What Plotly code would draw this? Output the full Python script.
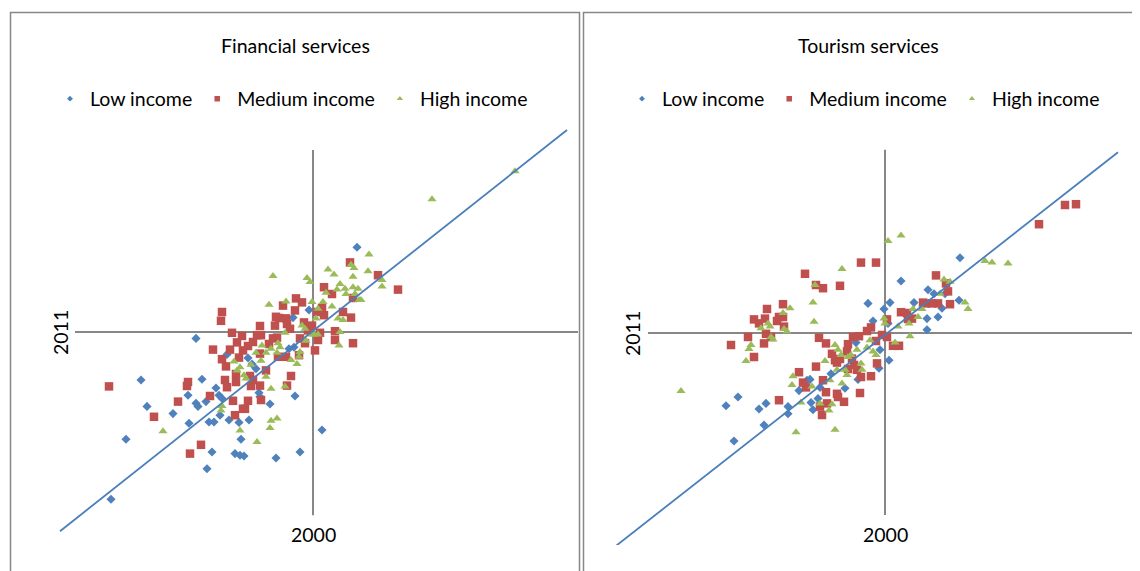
import plotly.graph_objects as go

# ---------------- data (arbitrary index units, origin = crossing of axes) ----------------
series_names = ["Low income", "Medium income", "High income"]
panel_titles = ["Financial services", "Tourism services"]
x_axis_label = "2000"
y_axis_label = "2011"

# Financial services
fin_low_x = [0.44, -1.17, -1.72, -1.11, -1.66, -1.87, -1.40, -1.25, -1.17, -1.15, -1.07, -0.97, -0.94, -0.91, -0.93,
             -1.24, -1.04, -0.99, -0.84, -0.74, -0.64, -0.72, -1.01, -0.78, -0.73, -0.69, -1.06, -0.37, -0.13, 0.09,
             -0.18, -0.43, -0.54, -0.53, -0.65, -0.61, -0.57, -0.86, -0.20, -0.24, -0.19, -0.04, -2.02]
fin_low_y = [1.06, -0.08, -0.60, -0.59, -0.93, -1.34, -1.02, -0.79, -0.89, -0.93, -0.87, -0.70, -0.79, -0.83, -1.04,
             -1.14, -1.125, -1.125, -1.10, -1.13, -1.10, -1.34, -1.50, -1.52, -1.54, -1.55, -1.71, -1.575, -1.50, -1.225,
             -0.80, -0.90, -0.76, -0.81, -0.325, -0.40, -0.46, -0.28, 0.18, -0.21, -0.19, 0.275, -2.09]

fin_med_x = [-2.04, -1.59, -1.35, -1.26, -1.25, -1.03, -1.12, -1.23, -0.91, -0.92, -0.81, -1.00, -0.83, -0.91, -0.87,
             -0.88, -0.86, -0.80, -0.77, -0.77, -0.70, -0.68, -0.65, -0.78, -0.71, -0.76, -0.74, -0.70, -0.65, -0.60,
             -0.56, -0.53, -0.52, -0.63, -0.60, -0.62, -0.53, -0.52, -0.47, -0.44, -0.53, -0.40, -0.36, -0.38, -0.37,
             -0.34, -0.30, -0.27, -0.26, -0.23, -0.18, -0.17, -0.11, -0.09, -0.05, -0.08, -0.14, -0.27, -0.35, -0.22,
             -0.26, 0.02, 0.05, 0.07, -0.01, 0.04, 0.11, 0.09, 0.11, 0.19, 0.22, 0.22, 0.30, 0.38, 0.40,
             0.37, 0.40, 0.65, 0.85, -0.13]
fin_med_y = [-0.68, -1.06, -0.87, -0.675, -0.625, -0.80, -1.41, -1.52, 0.25, 0.14, -0.01, -0.22, -0.22, -0.34, -0.43,
             -0.60, -0.69, -0.86, -0.525, -0.625, -0.96, -0.96, -0.86, -1.04, -0.05, -0.13, -0.32, -0.23, -0.175, -0.125,
             -0.04, 0.075, -0.04, -0.55, -0.60, -0.675, -0.67, -0.85, -0.48, -0.15, -0.27, -0.08, -0.07, 0.08, 0.19,
             0.175, 0.33, 0.17, 0.10, 0.04, 0.27, 0.42, 0.37, 0.12, 0.02, -0.14, -0.29, -0.31, -0.31, -0.55,
             -0.67, -0.23, -0.10, -0.01, 0.08, 0.25, 0.56, 0.30, 0.21, 0.475, 0.01, -0.10, 0.25, 0.18, -0.14,
             0.87, 0.425, 0.71, 0.53, -0.08]

fin_high_x = [-1.50, -0.92, -0.91, -0.73, -0.56, -0.43, -0.42, -0.36, -0.42, -0.28, -0.47, -0.79, -0.76, -0.73, -0.69,
              -0.67, -0.62, -0.57, -0.51, -0.47, -0.52, -0.42, -0.35, -0.33, -0.36, -0.44, -0.40, -0.27, -0.28, -0.22,
              -0.16, -0.14, -0.13, -0.11, -0.08, -0.07, -0.01, 0.01, 0.05, 0.03, 0.05, -0.01, 0.10, -0.06, -0.03,
              0.13, 0.15, 0.21, 0.24, 0.27, 0.19, 0.25, 0.27, 0.26, 0.32, 0.33, 0.40, 0.42, 0.45, 0.46,
              0.48, 0.40, 0.38, 0.41, 0.55, 0.56, 0.69, 0.69, 0.30, 1.19, 2.02]
fin_high_y = [-1.24, -0.98, -0.925, -1.23, -1.375, -1.20, -1.11, -1.08, -0.71, -0.68, -0.56, -0.37, -0.48, -0.44, -0.54,
              -0.58, -0.41, -0.26, -0.17, -0.26, -0.36, -0.21, -0.14, -0.19, -0.26, 0.34, 0.70, 0.38, -0.01, -0.35,
              -0.40, -0.31, -0.25, 0.08, 0.04, -0.11, -0.03, -0.03, -0.03, 0.17, 0.29, 0.375, 0.375, 0.675, 0.625,
              0.49, 0.78, 0.72, 0.53, 0.60, 0.32, 0.17, 0.00, -0.17, 0.54, 0.475, 0.56, 0.475, 0.54, 0.40,
              0.40, 0.69, 0.84, 0.80, 0.76, 0.97, 0.65, 0.57, 0.15, 1.66, 2.01]

fin_line_x = [-2.53, 2.54]
fin_line_y = [-2.49, 2.525]

# Tourism services
tour_low_x = [-1.51, -1.59, -1.47, -1.26, -1.19, -1.21, -0.97, -0.97, -0.86, -0.78, -0.75, -0.74, -0.72, -0.67, -0.65,
              -0.54, -0.40, -0.27, -0.29, -0.17, -0.12, -0.05, -0.06, 0.04, -0.01, 0.05, 0.03, 0.16, 0.29, 0.43,
              0.42, 0.42, 0.49, 0.53, 0.57, 0.60, 0.74, 0.75]
tour_low_y = [-1.35, -0.91, -0.80, -0.95, -0.88, -1.15, -0.92, -1.01, -0.72, -0.59, -0.58, -0.87, -0.96, -0.82, -0.68,
              -0.51, -0.69, -0.58, -0.12, 0.37, 0.15, -0.21, -0.44, -0.34, 0.30, 0.38, 0.12, 0.65, 0.38, 0.54,
              0.18, 0.04, 0.49, 0.20, 0.31, 0.49, 0.41, 0.94]

tour_med_x = [-1.54, -1.37, -1.31, -1.31, -1.26, -1.20, -1.18, -1.19, -1.21, -1.14, -1.08, -1.06, -1.02, -1.02, -1.01,
              -0.80, -0.69, -0.62, -0.45, -0.24, -0.09, -0.66, -0.59, -0.86, -0.69, -0.82, -0.79, -0.62, -1.06, -0.63,
              -0.65, -0.58, -0.59, -0.48, -0.47, -0.41, -0.25, -0.14, -0.24, -0.53, -0.50, -0.48, -0.45, -0.37, -0.38,
              -0.37, -0.32, -0.26, -0.33, -0.31, -0.28, -0.18, -0.14, -0.08, -0.09, -0.03, 0.02, 0.02, 0.08, 0.14,
              0.16, 0.22, 0.23, 0.27, 0.38, 0.41, 0.47, 0.53, 0.65, 0.63, 0.61, 0.51, 1.54, 1.80, 1.91]
tour_med_y = [-0.15, -0.05, -0.30, 0.17, 0.12, 0.18, 0.30, -0.01, -0.13, -0.05, 0.15, 0.20, 0.20, 0.36, 0.08,
              0.74, 0.60, 0.56, 0.59, 0.88, 0.88, -0.06, -0.13, -0.49, -0.42, -0.62, -0.68, -0.59, -0.84, -1.025,
              -0.92, -0.88, -0.74, -0.76, -0.80, -0.86, -0.75, -0.54, -0.55, -0.26, -0.34, -0.37, -0.325, -0.14, -0.23,
              -0.45, -0.05, -0.04, -0.32, -0.40, -0.46, 0.025, 0.07, -0.38, -0.10, -0.025, -0.05, 0.17, -0.16, -0.16,
              0.26, 0.25, 0.175, 0.18, 0.38, 0.37, 0.37, 0.37, 0.36, 0.52, 0.62, 0.72, 1.36, 1.60, 1.61]

tour_high_x = [-2.04, -1.39, -1.36, -1.34, -1.24, -1.17, -1.15, -1.14, -1.12, -1.02, -1.01, -0.98, -0.95, -0.71, -0.72,
               -0.70, -0.43, 0.03, 0.16, -0.92, -0.93, -0.89, -0.84, -0.73, -0.65, -0.56, -0.53, -0.50, -0.60, -0.50,
               -0.47, -0.44, -0.43, -0.40, -0.37, -0.34, -0.38, -0.48, -0.55, -0.28, -0.24, -0.23, -0.18, -0.15, -0.12,
               -0.09, -0.01, 0.00, 0.10, 0.13, 0.24, 0.25, 0.33, 0.37, 0.59, 0.65, 0.55, 0.80, 0.83, 1.00,
               1.07, 1.23, 0.28]
tour_high_y = [-0.725, -0.35, -0.20, -0.15, 0.06, 0.12, 0.08, -0.05, -0.08, 0.25, 0.05, 0.02, 0.31, 0.14, 0.38,
               0.60, 0.80, 1.15, 1.22, -0.54, -0.65, -1.24, -0.87, -0.67, -0.88, -0.97, -0.89, -1.21, -0.35, -0.15,
               -0.21, -0.275, -0.63, -0.46, -0.30, -0.275, -0.525, -0.46, -0.59, -0.21, -0.38, -0.46, -0.18, -0.09, -0.23,
               -0.275, 0.18, 0.12, -0.12, 0.08, 0.12, -0.04, 0.20, 0.30, 0.67, 0.64, 0.49, 0.38, 0.30, 0.90,
               0.88, 0.87, 0.30]

tour_line_x = [-2.73, 2.33]
tour_line_y = [-2.70, 2.26]

# ---------------- styling ----------------
PAGE_OFFSET = 8               # default body margin of the html page
W, H = 1140 - PAGE_OFFSET, 571 - PAGE_OFFSET
FONT = "Lato, 'Open Sans', sans-serif"
FS = 19.5
BLUE = "#4f81bd"
RED = "#c0504d"
GREEN = "#9bbb59"
LINE_BLUE = "#4a7ebb"
GRAY = "#878787"


def px(v):
    return (v - PAGE_OFFSET) / W


def py(v):
    return 1 - (v - PAGE_OFFSET) / H


fig = go.Figure()

panels = [
    dict(xa="x", ya="y", legend="legend",
         series=[(fin_low_x, fin_low_y), (fin_med_x, fin_med_y), (fin_high_x, fin_high_y)],
         line=(fin_line_x, fin_line_y)),
    dict(xa="x2", ya="y2", legend="legend2",
         series=[(tour_low_x, tour_low_y), (tour_med_x, tour_med_y), (tour_high_x, tour_high_y)],
         line=(tour_line_x, tour_line_y)),
]
symbols = ["diamond", "square", "triangle-up"]
colors = [BLUE, RED, GREEN]
sizes = [7, 8.5, 8]
legend_sizes = [4.5, 5.5, 5.5]

for p in panels:
    for (sx, sy), name, sym, col, sz in zip(p["series"], series_names, symbols, colors, sizes):
        fig.add_trace(go.Scatter(x=sx, y=sy, mode="markers", name=name, showlegend=False,
                                 marker=dict(symbol=sym, size=sz, color=col, line=dict(width=0)),
                                 xaxis=p["xa"], yaxis=p["ya"], hoverinfo="skip"))
    fig.add_trace(go.Scatter(x=p["line"][0], y=p["line"][1], mode="lines", showlegend=False,
                             line=dict(color=LINE_BLUE, width=1.8),
                             xaxis=p["xa"], yaxis=p["ya"], hoverinfo="skip"))
    for name, sym, col, sz in zip(series_names, symbols, colors, legend_sizes):
        fig.add_trace(go.Scatter(x=[None], y=[None], mode="markers", name=name, legend=p["legend"],
                                 marker=dict(symbol=sym, size=sz, color=col, line=dict(width=0)),
                                 xaxis=p["xa"], yaxis=p["ya"]))

axis_common = dict(visible=False, showgrid=False, zeroline=False, fixedrange=True)
fig.update_layout(
    width=W, height=H,
    margin=dict(l=0, r=0, t=0, b=0),
    paper_bgcolor="white", plot_bgcolor="rgba(0,0,0,0)",
    font=dict(family=FONT, size=FS, color="#000000"),
    xaxis=dict(domain=[px(50), px(580)], range=[-2.63, 2.67], anchor="y", **axis_common),
    yaxis=dict(domain=[py(545), py(120)], range=[-2.6625, 2.65], anchor="x", **axis_common),
    xaxis2=dict(domain=[px(600), 1.0], range=[-2.85, 2.55], anchor="y2", **axis_common),
    yaxis2=dict(domain=[py(545), py(120)], range=[-2.65, 2.6625], anchor="x2", **axis_common),
    legend=dict(orientation="h", x=px(50), xanchor="left", y=py(99), yanchor="middle",
                bgcolor="rgba(0,0,0,0)", font=dict(size=FS), itemclick=False, itemdoubleclick=False),
    legend2=dict(orientation="h", x=px(622), xanchor="left", y=py(99), yanchor="middle",
                 bgcolor="rgba(0,0,0,0)", font=dict(size=FS), itemclick=False, itemdoubleclick=False),
    showlegend=True,
)

shapes = [
    # panel borders
    dict(type="rect", xref="paper", yref="paper", x0=px(10.5), x1=px(579.5), y0=-0.1, y1=py(12.5),
         line=dict(color=GRAY, width=1.5), layer="below"),
    dict(type="rect", xref="paper", yref="paper", x0=px(583.5), x1=1.1, y0=-0.1, y1=py(12.5),
         line=dict(color=GRAY, width=1.5), layer="below"),
    # axes crossing lines (financial)
    dict(type="line", xref="x", yref="y", x0=0, x1=0, y0=-2.29, y1=2.275, line=dict(color=GRAY, width=2), layer="below"),
    dict(type="line", xref="x", yref="y", x0=-2.38, x1=2.65, y0=0, y1=0, line=dict(color=GRAY, width=2), layer="below"),
    # axes crossing lines (tourism)
    dict(type="line", xref="x2", yref="y2", x0=0, x1=0, y0=-2.275, y1=2.29, line=dict(color=GRAY, width=2), layer="below"),
    dict(type="line", xref="x2", yref="y2", x0=-2.37, x1=2.6, y0=0, y1=0, line=dict(color=GRAY, width=2), layer="below"),
]
fig.update_layout(shapes=shapes)

annotations = [
    dict(text=panel_titles[0], x=px(295), y=py(46)),
    dict(text=panel_titles[1], x=px(868), y=py(46)),
    dict(text=x_axis_label, x=px(313), y=py(534)),
    dict(text=x_axis_label, x=px(885), y=py(534)),
    dict(text=y_axis_label, x=px(60), y=py(333), textangle=-90),
    dict(text=y_axis_label, x=px(632), y=py(334), textangle=-90),
]
for a in annotations:
    a.update(xref="paper", yref="paper", showarrow=False, xanchor="center", yanchor="middle",
             font=dict(size=FS))
fig.update_layout(annotations=annotations)

fig.write_html("out.html", config=dict(displayModeBar=False))
